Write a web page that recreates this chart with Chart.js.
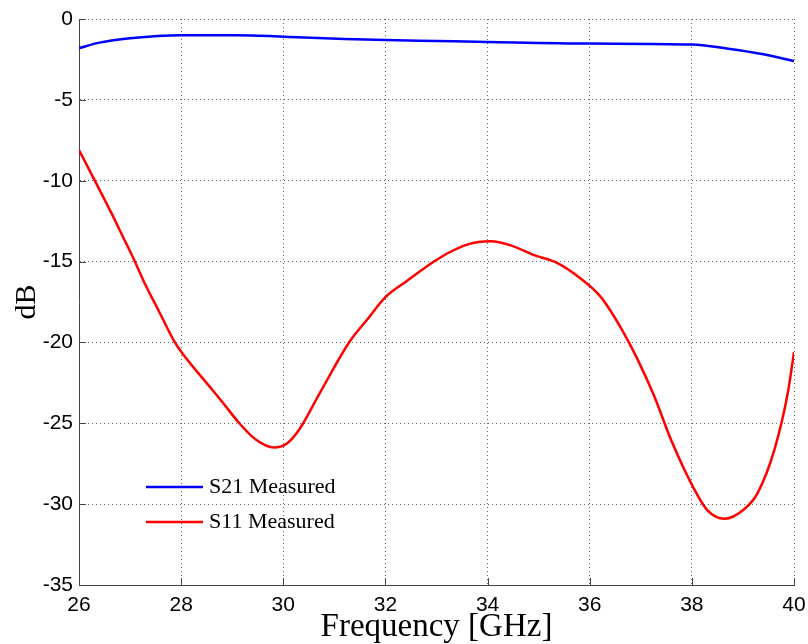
<!DOCTYPE html>
<html>
<head>
<meta charset="utf-8">
<script src="https://cdn.jsdelivr.net/npm/chart.js@4.4.1/dist/chart.umd.min.js"></script>
<style>
  html, body { margin: 0; padding: 0; background: #fff; }
  canvas { display: block; }
</style>
</head>
<body>
<canvas id="grafico" width="808" height="644"></canvas>
<script>
// frequência (GHz) e valores (dB)
const freqS21 = [26, 26.4, 27, 28, 29.1, 30, 31.2, 32, 33, 34, 36, 38, 38.75, 39.4, 40];
const s21 = [-1.8, -1.46, -1.19, -1.0, -1.0, -1.09, -1.23, -1.3, -1.36, -1.42, -1.52, -1.58, -1.85, -2.18, -2.6];

const freqS11 = [26, 26.4, 26.65, 26.85, 27.08, 27.31, 27.57, 27.86, 28.03, 28.55, 28.81, 29.14, 29.46, 29.82, 30.05,
  30.31, 30.72, 31.31, 31.64, 32.0, 32.42, 32.95, 33.21, 33.6, 34.06, 34.45, 34.91, 35.37, 35.82, 36.22,
  36.61, 36.93, 37.26, 37.59, 38.05, 38.31, 38.64, 39.03, 39.29, 39.62, 39.88, 40];
const s11 = [-8.1, -10.55, -12.1, -13.4, -14.9, -16.5, -18.1, -19.9, -20.7, -22.7, -23.7, -25.0, -26.0, -26.5, -26.3,
  -25.4, -23.1, -19.9, -18.6, -17.2, -16.2, -15.0, -14.5, -13.95, -13.75, -14.0, -14.6, -15.1, -16.05, -17.2,
  -19.1, -21.0, -23.3, -26.0, -29.1, -30.4, -30.9, -30.3, -29.3, -26.6, -23.1, -20.6];

const legendas = ["S21 Measured", "S11 Measured"];
const cores = ["#0000ff", "#ff0000"];

const xTicks = [26, 28, 30, 32, 34, 36, 38, 40];
const yTicks = [0, -5, -10, -15, -20, -25, -30, -35];

const pontos = (xs, ys) => xs.map((x, i) => ({ x: x, y: ys[i] }));

// ticks para dentro, estilo MATLAB
const ticksDentro = {
  id: "ticksDentro",
  afterDatasetsDraw(chart) {
    const { ctx, chartArea, scales } = chart;
    ctx.save();
    ctx.strokeStyle = "#444";
    ctx.lineWidth = 1;
    ctx.beginPath();
    xTicks.forEach(v => {
      const px = Math.round(scales.x.getPixelForValue(v)) + 0.5;
      ctx.moveTo(px, chartArea.bottom);
      ctx.lineTo(px, chartArea.bottom - 7);
    });
    yTicks.forEach(v => {
      const py = Math.round(scales.y.getPixelForValue(v)) + 0.5;
      ctx.moveTo(chartArea.left, py);
      ctx.lineTo(chartArea.left + 7, py);
    });
    ctx.stroke();
    ctx.restore();
  }
};

// legenda dentro da área do gráfico
const legendaInterna = {
  id: "legendaInterna",
  afterDatasetsDraw(chart) {
    const { ctx, chartArea } = chart;
    ctx.save();
    ctx.font = "22px 'Liberation Serif'";
    ctx.textBaseline = "middle";
    chart.data.datasets.forEach((ds, i) => {
      const y = chartArea.top + 468 + i * 35;
      const x0 = chartArea.left + 67;
      ctx.strokeStyle = ds.borderColor;
      ctx.lineWidth = 2.5;
      ctx.beginPath();
      ctx.moveTo(x0, y);
      ctx.lineTo(x0 + 57, y);
      ctx.stroke();
      ctx.fillStyle = "#000";
      ctx.fillText(ds.label, x0 + 63, y);
    });
    ctx.restore();
  }
};

new Chart(document.getElementById("grafico"), {
  type: "line",
  data: {
    datasets: [
      {
        label: legendas[0],
        data: pontos(freqS21, s21),
        borderColor: cores[0],
        borderWidth: 2.5,
        pointRadius: 0,
        cubicInterpolationMode: "monotone",
        fill: false
      },
      {
        label: legendas[1],
        data: pontos(freqS11, s11),
        borderColor: cores[1],
        borderWidth: 2.5,
        pointRadius: 0,
        cubicInterpolationMode: "monotone",
        fill: false
      }
    ]
  },
  options: {
    responsive: false,
    animation: false,
    layout: { padding: { top: 19, right: 14, left: 0, bottom: 0 } },
    plugins: {
      legend: { display: false },
      tooltip: { enabled: false }
    },
    scales: {
      x: {
        type: "linear",
        min: 26,
        max: 40,
        afterBuildTicks: (scale) => { scale.ticks = xTicks.map(v => ({ value: v })); },
        afterFit: (scale) => {
          scale.height = 59;
          scale.paddingLeft = 0;
          scale.paddingRight = 0;
        },
        ticks: {
          color: "#000",
          padding: 8,
          maxRotation: 0,
          font: { family: "'Liberation Sans'", size: 21 }
        },
        grid: {
          color: "#666",
          drawTicks: false
        },
        border: { display: true, color: "#444", width: 1, dash: [1, 3] },
        title: {
          display: true,
          text: "Frequency [GHz]",
          color: "#000",
          font: { family: "'Liberation Serif'", size: 33, lineHeight: 1 },
          padding: { top: 0, bottom: 0 }
        }
      },
      y: {
        min: -35,
        max: 0,
        afterBuildTicks: (scale) => { scale.ticks = yTicks.map(v => ({ value: v })); },
        afterFit: (scale) => { scale.width = 79; },
        ticks: {
          color: "#000",
          padding: 6,
          font: { family: "'Liberation Sans'", size: 21 }
        },
        grid: {
          color: "#666",
          drawTicks: false
        },
        border: { display: true, color: "#444", width: 1, dash: [1, 3] },
        title: {
          display: true,
          text: "dB",
          color: "#000",
          font: { family: "'Liberation Serif'", size: 30 },
          padding: { top: 9, bottom: 0 }
        }
      }
    }
  },
  plugins: [ticksDentro, legendaInterna]
});
</script>
</body>
</html>
